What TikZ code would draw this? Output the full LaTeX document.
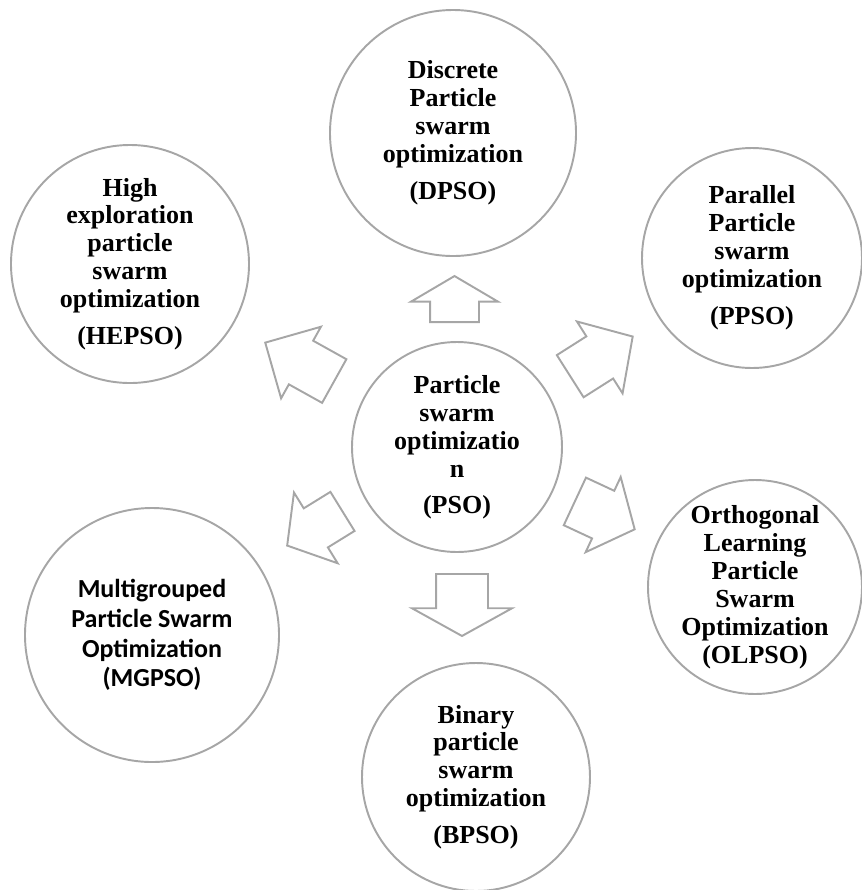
\documentclass[tikz,border=0pt]{standalone}
\usepackage{fontspec}
\setmainfont{Liberation Serif}
\newfontfamily\calibrifont{Carlito}
\usetikzlibrary{shapes.arrows}

\definecolor{ringgray}{RGB}{166,166,166}
\newlength{\pxu}
\setlength{\pxu}{0.02cm}

\begin{document}
\begin{tikzpicture}[
        x=0.02cm, y=-0.02cm,
        every node/.style={font=\bfseries\fontsize{14.8}{15.9}\selectfont},
        ring/.style={
            circle,
            draw=ringgray,
            line width=1.1pt,
            align=center,
            inner sep=-4pt,
            minimum size=#1\pxu
        },
        flowarrow/.style n args={5}{
            single arrow,
            draw=ringgray,
            line width=1.1pt,
            anchor=tail,
            inner xsep=0pt,
            minimum width=0pt,
            rotate=#1,
            minimum height=#2\pxu,
            inner ysep=#3\pxu,
            single arrow head extend=#4\pxu,
            single arrow tip angle=#5
        }
    ]
        \useasboundingbox (0,0) rectangle (862,890);

        % circles
        \node[ring=210] (pso) at (457,447) {Particle\\swarm\\optimizatio\\n\\[4.5pt](PSO)};
        \node[ring=246] (dpso) at (453,133) {Discrete\\Particle\\swarm\\optimization\\[5pt](DPSO)};
        \node[ring=220] (ppso) at (752,258) {Parallel\\Particle\\swarm\\optimization\\[5pt](PPSO)};
        \node[ring=214] (olpso) at (755,587) {Orthogonal\\Learning\\Particle\\Swarm\\Optimization\\(OLPSO)};
        \node[ring=228] (bpso) at (476,777) {Binary\\particle\\swarm\\optimization\\[5pt](BPSO)};
        \node[ring=254, font=\calibrifont\bfseries\fontsize{14.8}{17}\selectfont] (mgpso) at (152,635) {Multigrouped\\Particle Swarm\\Optimization\\(MGPSO)};
        \node[ring=238] (hepso) at (130,264) {High\\exploration\\particle\\swarm\\optimization\\[5pt](HEPSO)};

        % block arrows
        \node[flowarrow={90}{46}{23.5}{19}{119}] (toDPSO) at (454.5,323) {};
        \node[flowarrow={32.4}{74}{24}{17.6}{95}] (toPPSO) at (569.4,376.7) {};
        \node[flowarrow={-25}{66}{25.3}{15.2}{100}] (toOLPSO) at (574,501) {};
        \node[flowarrow={-90}{62}{25}{24}{122}] (toBPSO) at (462,573) {};
        \node[flowarrow={211.7}{65}{22}{18.6}{102}] (toMGPSO) at (343.3,510.9) {};
        \node[flowarrow={150.9}{79}{24}{16}{90}] (toHEPSO) at (335.1,381.5) {};
    \end{tikzpicture}
\end{document}
